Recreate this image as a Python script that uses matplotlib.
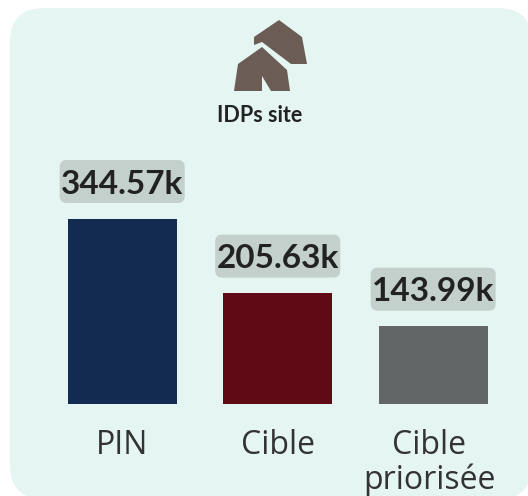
import matplotlib
matplotlib.use("Agg")
import matplotlib.pyplot as plt
from matplotlib.patches import FancyBboxPatch, Polygon

categories = ["PIN", "Cible", "Cible\npriorisée"]
values = [344.57, 205.63, 143.99]
value_labels = ["344.57k", "205.63k", "143.99k"]
bar_colors = ["#132B50", "#5F0A14", "#626666"]
title = "IDPs site"

W, H = 528, 496
fig = plt.figure(figsize=(W / 100, H / 100), dpi=100, facecolor="white")

# Pixel-space layer for the panel, icon and label chips (y runs downward)
bg = fig.add_axes([0, 0, 1, 1], zorder=0)
bg.set_xlim(0, W)
bg.set_ylim(H, 0)
bg.axis("off")
R = 34
bg.add_patch(FancyBboxPatch((10 + R, 8 + R), 522 - 2 * R, 491 - 2 * R,
                            boxstyle=f"round,pad={R},rounding_size={R}",
                            fc="#E5F5F2", ec="none"))
icon = "#6B5D55"
bg.add_patch(Polygon([(279, 20), (302, 37), (307, 64), (291, 64), (262, 42),
                      (254, 45), (254, 37)], fc=icon, ec="none"))
bg.add_patch(Polygon([(262, 47), (287, 70), (290, 91), (271, 91), (262, 76),
                      (262, 91), (234, 91), (238, 64)], fc=icon, ec="none"))
bg.text(259.5, 115, title, ha="center", va="center", fontsize=15.5,
        fontweight="bold", family="Lato", color="#222222")

# Data layer
ax = fig.add_axes([0, 0, 1, 1], zorder=1)
ax.patch.set_alpha(0)
ax.axis("off")
px_x = 155.5
px_y = 185 / 344.57
ax.set_xlim(-122.2 / px_x, (W - 122.2) / px_x)
ax.set_ylim(-92.5 / px_y, (H - 92.5) / px_y)
xs = list(range(len(categories)))
ax.bar(xs, values, width=0.70, color=bar_colors)

for x, v, lab in zip(xs, values, value_labels):
    dx, dy = ax.transData.transform((x, v))
    cx, cy = dx, H - dy - 37
    bw, bh, r = 125, 43, 7
    bg.add_patch(FancyBboxPatch((cx - bw / 2 + r, cy - bh / 2 + r), bw - 2 * r, bh - 2 * r,
                                boxstyle=f"round,pad={r},rounding_size={r}",
                                fc="#C3D0CC", ec="none"))
    bg.text(cx, cy + 2.5, lab, ha="center", va="center", fontsize=24,
            fontweight="bold", family="Lato", color="#222222")

tick_dx = [0, 0, -4]
for x, c, d in zip(xs, categories, tick_dx):
    ax.annotate(c, (x, 0), xytext=(d * 0.72, -26 * 0.72), textcoords="offset points",
                ha="center", va="top", fontsize=23, family="Open Sans",
                color="#333333", linespacing=1.05)

fig.savefig("out.png", dpi=100)
